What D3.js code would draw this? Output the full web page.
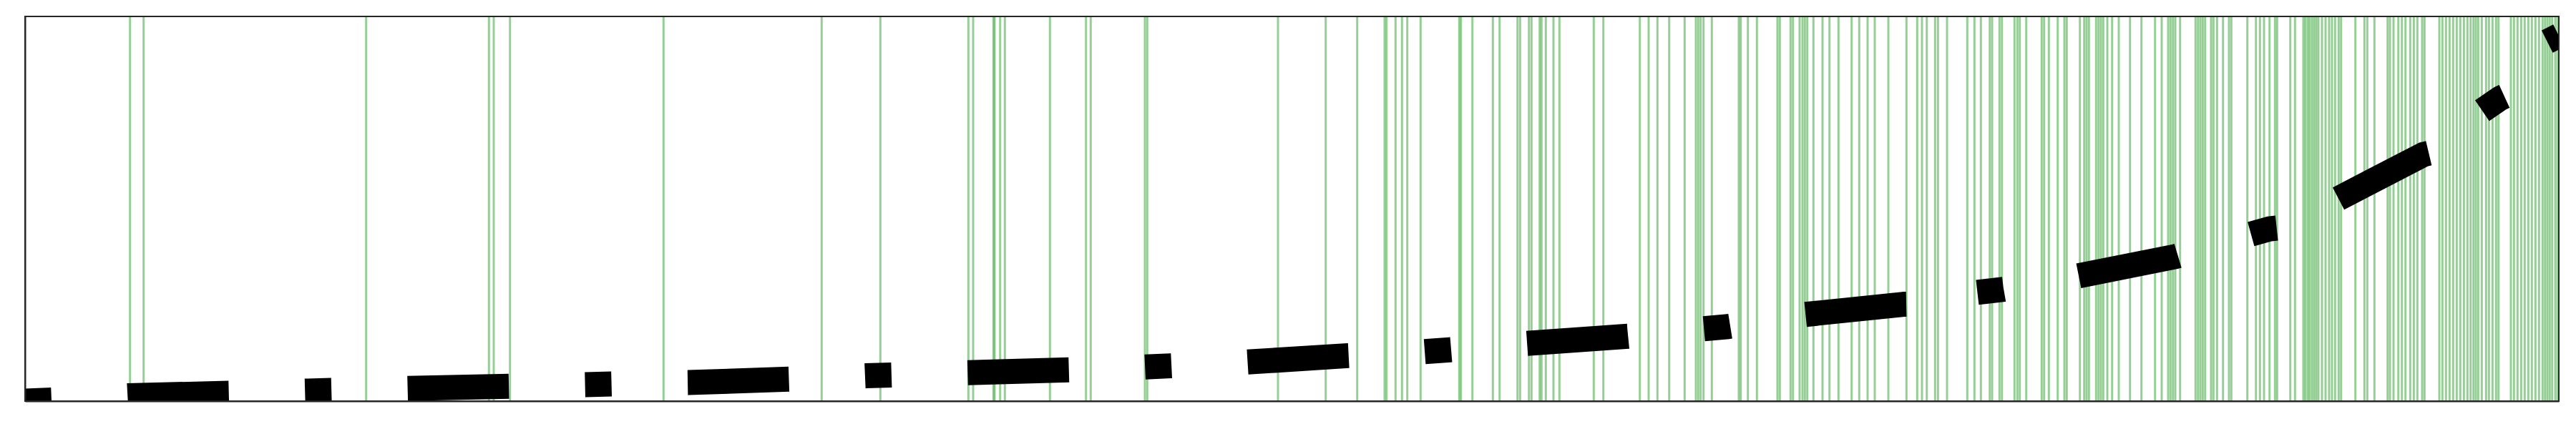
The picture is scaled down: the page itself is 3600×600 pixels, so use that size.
<!DOCTYPE html>
<html>
<head>
<meta charset="utf-8">
<script src="https://cdn.jsdelivr.net/npm/d3@7"></script>
<style>
  html, body { margin: 0; padding: 0; background: #fff; }
  svg { display: block; }
</style>
</head>
<body>
<script>
// ---- data (arbitrary units, no axis labels shown) ----
const timeDomain = [0, 354.1];
const valueDomain = [0, 100];

// event times (green vertical markers)
const eventTimes = [
  14.67, 16.57, 47.67, 64.83, 65.5, 67.77, 89.23, 111.33, 119.53, 131.83, 132.5,
  135.33, 135.5, 136.27, 136.93, 143.23, 148.27, 148.93, 156.5, 156.83, 175.1,
  181.77, 186.17, 190.0, 190.27, 191.53, 192.43, 193.17, 195.03, 200.43, 200.67,
  202.27, 205.13, 206.07,
  208.57, 208.93, 210.17, 210.53, 211.67, 211.93, 212.53, 213.6, 214.43, 219.23,
  220.57, 225.67, 226.9, 228.13, 229.77, 231.93, 233.5, 233.83, 234.17, 234.57,
  235.73, 239.5, 239.77, 240.77, 242.03, 244.9, 245.23, 246.73, 247.07, 248.0,
  248.4, 248.73, 249.07, 249.93, 251.2, 252.17, 253.43, 255.27, 256.33, 257.5, 258.5,
  260.4, 262.93, 264.43, 265.1, 265.77, 266.93, 267.33, 268.6, 271.43, 272.43,
  273.33, 274.57, 274.9, 275.93, 276.27, 278.03, 278.43, 278.77, 279.67, 281.83,
  282.17, 282.83, 284.07, 285.0, 285.33, 287.17, 287.77, 288.1, 288.43, 289.43,
  289.77, 290.1, 290.43, 291.0, 291.67, 292.6, 294.17, 295.77, 297.67, 298.6,
  299.5, 299.83, 300.17, 300.5, 301.17, 303.33, 303.67, 304.0, 304.33, 304.67,
  305.5, 305.83, 306.33, 307.17, 308.0, 308.33, 310.57, 311.77,
  312.33, 312.9, 313.67, 314.43, 314.73, 316.57, 317.23, 318.4, 318.67, 319.0,
  319.27, 319.6, 319.9, 320.2, 320.5, 321.0, 321.5, 322.0, 322.4, 322.83, 323.33,
  323.67, 325.67, 326.93, 327.33, 328.33, 330.17, 330.5, 331.0, 331.67, 332.17,
  332.67, 333.33, 333.83, 334.33, 335.0, 335.33, 337.4, 337.83, 338.33, 338.83,
  339.33, 339.83, 340.33, 340.83, 341.33, 341.77, 342.17, 342.5, 342.83, 343.33,
  343.93, 344.33, 344.83, 345.33, 345.67, 347.4, 347.83, 348.33, 348.83, 349.33,
  349.83, 350.33, 350.83, 351.33, 351.83, 352.17, 352.5, 352.83, 353.17, 353.6, 353.93
];

// curve (thick dashed black line)
const curveTimes = [
  0, 3.7, 14.4, 28.5, 39.5, 42.8, 53.5, 67.7, 78.3, 82.0, 92.7, 106.8, 117.5, 121.1,
  131.6, 146.1, 156.5, 160.1, 170.7, 184.9, 195.3, 199.1, 209.6, 224.0, 234.3, 238.0,
  248.2, 262.5, 271.13, 272.2, 276.5, 286.6, 300.6, 310.7, 313.75, 321.17, 322.95,
  335.2, 341.17, 343.05, 345.9, 350.43, 352.1, 354.1
];
const curveValues = [
  0, 0.28, 1.39, 2.04, 2.60, 2.79, 3.31, 3.85, 4.28, 4.46, 4.81, 5.71, 6.58, 6.78,
  7.38, 8.14, 8.87, 9.18, 10.15, 11.82, 12.83, 13.35, 14.98, 16.86, 18.77, 19.37,
  22.42, 25.17, 25.50, 28.14, 29.07, 32.42, 37.62, 43.22, 44.80, 46.26, 52.32,
  64.13, 66.77, 75.09, 78.72, 82.60, 93.12, 94.98
];

// ---- layout ----
const W = 3600, H = 600;
const margin = { left: 35, right: 24, top: 23, bottom: 39 };
const innerW = W - margin.left - margin.right;
const innerH = H - margin.top - margin.bottom;

const svg = d3.select("body").append("svg")
  .attr("width", W).attr("height", H);

const g = svg.append("g").attr("transform", `translate(${margin.left},${margin.top})`);

const x = d3.scaleLinear().domain(timeDomain).range([0, innerW]);
const y = d3.scaleLinear().domain(valueDomain).range([innerH, 0]);

svg.append("defs").append("clipPath").attr("id", "plotclip")
  .append("rect").attr("x", 0).attr("y", 0).attr("width", innerW).attr("height", innerH);

// event markers
g.append("g").attr("clip-path", "url(#plotclip)")
  .selectAll("line").data(eventTimes).join("line")
  .attr("x1", d => x(d)).attr("x2", d => x(d))
  .attr("y1", 0).attr("y2", innerH)
  .attr("stroke", "#2ca02c")
  .attr("stroke-opacity", 0.5)
  .attr("stroke-width", 3);

// dashed curve
const pts = curveTimes.map((t, i) => [t, curveValues[i]]);
const line = d3.line().x(d => x(d[0])).y(d => y(d[1])).curve(d3.curveLinear);
g.append("path")
  .attr("clip-path", "url(#plotclip)")
  .attr("d", line(pts))
  .attr("fill", "none")
  .attr("stroke", "#000")
  .attr("stroke-width", 35)
  .attr("stroke-linecap", "butt")
  .attr("stroke-linejoin", "round")
  .attr("stroke-dasharray", "37,106.5,141.5,106.5");

// frame (axes without ticks)
const xAxis = d3.axisBottom(x).tickValues([]).tickSizeOuter(0);
const yAxis = d3.axisLeft(y).tickValues([]).tickSizeOuter(0);
g.append("g").attr("transform", `translate(0,${innerH})`).call(xAxis)
  .select(".domain").attr("stroke", "#262626").attr("stroke-width", 2);
g.append("g").call(yAxis)
  .select(".domain").attr("stroke", "#262626").attr("stroke-width", 2);
g.append("rect")
  .attr("x", 0).attr("y", 0).attr("width", innerW).attr("height", innerH)
  .attr("fill", "none").attr("stroke", "#262626").attr("stroke-width", 2);
</script>
</body>
</html>
